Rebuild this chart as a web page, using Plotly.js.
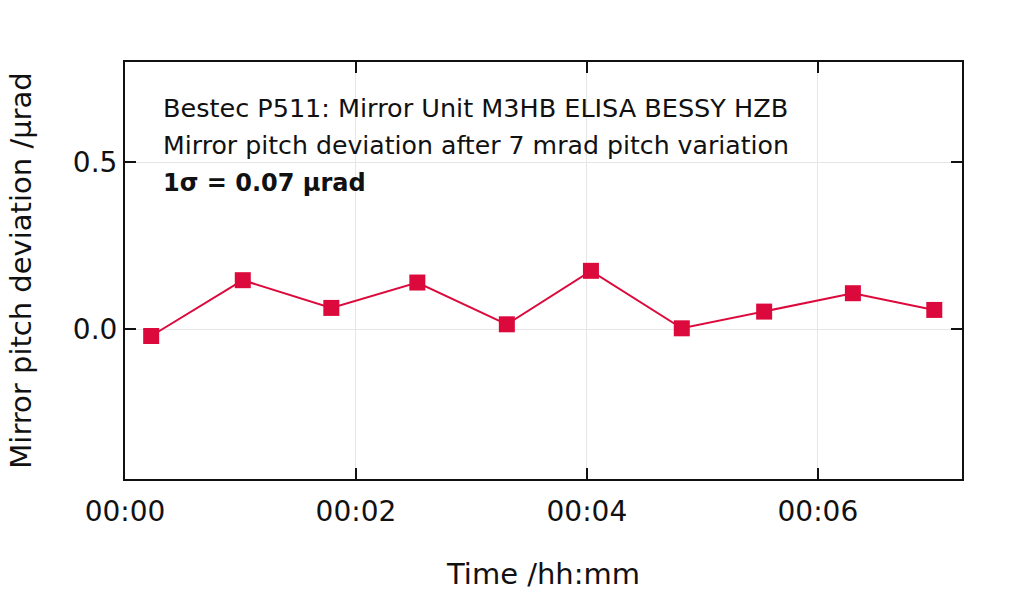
<!DOCTYPE html>
<html>
<head>
<meta charset="utf-8">
<script src="https://cdn.plot.ly/plotly-3.0.1.min.js"></script>
<style>html,body{margin:0;padding:0;background:#fff;}#chart{width:1024px;height:594px;}</style>
</head>
<body>
<div id="chart"></div>
<script>
// Data (time since start hh:mm:ss, pitch deviation in µrad)
var timeLabels = ["00:00:13.6","00:01:01.2","00:01:47.2","00:02:31.9","00:03:18.4","00:04:02.1","00:04:49.3","00:05:32.1","00:06:18.2","00:07:00.5"];
var pitchDeviation = [-0.020, 0.147, 0.064, 0.140, 0.015, 0.175, 0.003, 0.053, 0.108, 0.058];
var titleLines = ["Bestec P511: Mirror Unit M3HB ELISA BESSY HZB", "Mirror pitch deviation after 7 mrad pitch variation", "<b>1σ = 0.07 µrad</b>"];
var xTitle = "Time /hh:mm";
var yTitle = "Mirror pitch deviation /µrad";

var day = "2000-01-01 ";
var xs = timeLabels.map(function(t){ return day + t; });

var font = "DejaVu Sans, Liberation Sans, Arial, sans-serif";
var red = "#dc0a3c";

var trace = {
  x: xs, y: pitchDeviation, type: "scatter", mode: "lines+markers",
  line: {color: red, width: 2},
  marker: {symbol: "square", size: 16, color: red},
  showlegend: false
};

var annY = [0.889, 0.800, 0.710];
var annSize = [25.5, 25.2, 24];
var annotations = titleLines.map(function(t, i){
  return {text: t, xref: "paper", yref: "paper", x: 0.043, y: annY[i], xanchor: "left", yanchor: "middle",
    showarrow: false, font: {family: font, size: annSize[i], color: "#111"}};
});

var layout = {
  width: 1024, height: 594,
  margin: {l: 125, r: 62, t: 62, b: 115, pad: 0},
  paper_bgcolor: "#fff", plot_bgcolor: "#fff",
  font: {family: font, color: "#111"},
  xaxis: {
    type: "date",
    range: [day + "00:00:00", day + "00:07:14.9"],
    dtick: 120000, tick0: day + "00:00:00",
    tickformat: "%H:%M",
    ticks: "inside", ticklen: 11, tickwidth: 2, tickcolor: "#111",
    ticklabelstandoff: 6,
    showline: true, linewidth: 2, linecolor: "#111", mirror: "ticks",
    showgrid: true, gridcolor: "#e6e6e6", gridwidth: 1,
    zeroline: false,
    tickfont: {family: font, size: 28, color: "#111"},
    title: {text: xTitle, font: {family: font, size: 29, color: "#111"}, standoff: 37}
  },
  yaxis: {
    range: [-0.448, 0.800],
    dtick: 0.5, tick0: 0, tickformat: ".1f",
    ticks: "inside", ticklen: 11, tickwidth: 2, tickcolor: "#111",
    showline: true, linewidth: 2, linecolor: "#111", mirror: "ticks",
    showgrid: true, gridcolor: "#e6e6e6", gridwidth: 1,
    zeroline: false,
    tickfont: {family: font, size: 28, color: "#111"},
    title: {text: yTitle, font: {family: font, size: 29, color: "#111"}, standoff: 33}
  },
  shapes: [{type: "rect", xref: "paper", yref: "paper", x0: 0.042, x1: 0.826, y0: 0.669, y1: 0.937,
    fillcolor: "#fff", line: {width: 0}, layer: "between"}],
  annotations: annotations
};

Plotly.newPlot("chart", [trace], layout, {displayModeBar: false, staticPlot: true});
</script>
</body>
</html>
